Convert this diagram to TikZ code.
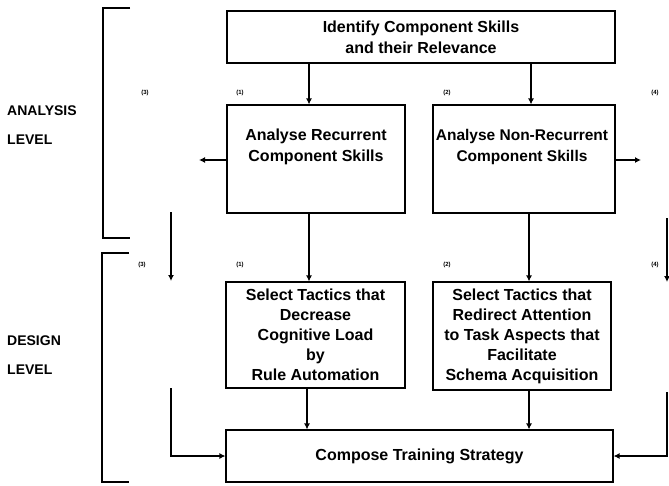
\documentclass[tikz,border=0pt]{standalone}
\usepackage{fontspec}
\setmainfont{Liberation Sans}
\usetikzlibrary{arrows.meta}
\begin{document}
\begin{tikzpicture}[x=1pt,y=-1pt,
  box/.style={draw, line width=1.1pt, inner sep=0pt},
  txt/.style={font=\fontsize{16}{21}\selectfont\bfseries, align=center, inner sep=0pt},
  tight/.style={font=\fontsize{16}{20}\selectfont\bfseries},
  flow/.style={line width=1.8pt, -{Latex[length=6pt,width=6pt]}},
  tag/.style={font=\fontsize{6}{6}\selectfont\bfseries, inner sep=0pt},
  lvl/.style={font=\fontsize{14}{29}\selectfont\bfseries, align=left, anchor=west, inner sep=0pt},
  brk/.style={line width=1.1pt}]
\useasboundingbox (0,0) rectangle (669,485);

% column positions of the vertical flows
\coordinate (c1) at (309,0);
\coordinate (c2) at (531,0);
\coordinate (d1) at (307,0);
\coordinate (d2) at (529,0);

% boxes
\node[box, txt, minimum width=388pt, minimum height=52pt] (top) at (421,37)
  {Identify Component Skills\\and their Relevance};
\node[box, minimum width=178pt, minimum height=108pt] (ar) at (316,159) {};
\node[txt] (art) at (316,147) {Analyse Recurrent\\Component Skills};
\node[box, minimum width=182pt, minimum height=108pt] (anr) at (524,159) {};
\node[txt, font=\fontsize{15.5}{21}\selectfont\bfseries] (anrt) at (522,147)
  {Analyse Non-Recurrent\\Component Skills};
\node[box, txt, tight, minimum width=179pt, minimum height=106pt] (sr) at (315.5,335)
  {Select Tactics that\\Decrease\\Cognitive Load\\by\\Rule Automation};
\node[box, txt, tight, minimum width=178pt, minimum height=108pt] (sn) at (522,336)
  {Select Tactics that\\Redirect Attention\\to Task Aspects that\\Facilitate\\Schema Acquisition};
\node[box, txt, minimum width=387pt, minimum height=52pt] (ct) at (419.5,456)
  {Compose Training Strategy};

% main flows
\draw[flow] (top.south -| c1) -- (ar.north -| c1);
\draw[flow] (top.south -| c2) -- (anr.north -| c2);
\draw[flow] (ar.south -| c1) -- (sr.north -| c1);
\draw[flow] (anr.south -| d2) -- (sn.north -| d2);
\draw[flow] (sr.south -| d1) -- (ct.north -| d1);
\draw[flow] (sn.south -| d2) -- (ct.north -| d2);

% side flows
\coordinate (lout) at (199,160);
\coordinate (rout) at (641,160);
\draw[flow] (ar.west |- lout) -- (lout);
\draw[flow] (anr.east |- rout) -- (rout);

\coordinate (l1) at (171,212);
\coordinate (l2) at (171,281);
\coordinate (l3) at (171,388);
\draw[flow] (l1) -- (l2);
\draw[flow] (l3) |- (ct.west);

\coordinate (r1) at (667,218);
\coordinate (r2) at (667,282);
\coordinate (r3) at (667,392);
\draw[flow] (r1) -- (r2);
\draw[flow] (r3) |- (ct.east);

% level brackets
\draw[brk] (130,8) -- (103,8) -- (103,238) -- (130,238);
\draw[brk] (129,253) -- (102,253) -- (102,482) -- (129,482);
\node[lvl] (lana) at (7,125) {ANALYSIS\\LEVEL};
\node[lvl] (ldes) at (7,355) {DESIGN\\LEVEL};

% path tags
\node[tag] (ta3) at (145,93) {(3)};
\node[tag] (ta1) at (240,93) {(1)};
\node[tag] (ta2) at (447,93) {(2)};
\node[tag] (ta4) at (655,93) {(4)};
\node[tag] (tb3) at (142,265) {(3)};
\node[tag] (tb1) at (240,265) {(1)};
\node[tag] (tb2) at (447,265) {(2)};
\node[tag] (tb4) at (655,265) {(4)};
\end{tikzpicture}
\end{document}
